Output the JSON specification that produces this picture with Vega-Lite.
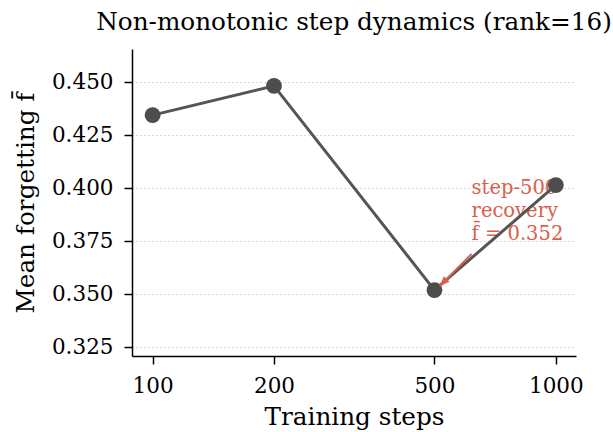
{
  "$schema": "https://vega.github.io/schema/vega-lite/v6.json",
  "width": 444,
  "height": 307,
  "autosize": {"type": "none"},
  "padding": {"left": 132, "top": 49, "right": 37, "bottom": 76},
  "config": {
    "font": "DejaVu Serif",
    "view": {"stroke": null},
    "axis": {"labelFont": "DejaVu Serif", "titleFont": "DejaVu Serif", "titleFontWeight": "normal", "labelColor": "#000", "titleColor": "#000", "domainColor": "#000", "tickColor": "#000", "domainWidth": 1.5, "tickWidth": 1.5, "tickSize": 8, "labelFontSize": 21.5, "titleFontSize": 24.7}
  },
  "title": {"text": "Non-monotonic step dynamics (rank=16)", "font": "DejaVu Serif", "fontSize": 24.7, "fontWeight": "normal", "color": "#000", "offset": 14},
  "datasets": {
    "pts": [
      {"steps": 100, "f": 0.4344},
      {"steps": 200, "f": 0.4482},
      {"steps": 500, "f": 0.3519},
      {"steps": 1000, "f": 0.4014}
    ],
    "arrow": [
      {"x1": 618, "y1": 0.3689, "x2": 515, "y2": 0.3538}
    ],
    "note": [
      {"x": 618, "y": 0.400, "label": ["step-500", "recovery", "f̄ = 0.352"]}
    ]
  },
  "layer": [
    {
      "data": {"name": "note"},
      "mark": {"type": "text", "color": "#d9604c", "font": "DejaVu Serif", "fontSize": 19.5, "align": "left", "baseline": "middle", "lineHeight": 23},
      "encoding": {
        "x": {"field": "x", "type": "quantitative", "scale": {"type": "log", "domain": [88.9, 1122], "nice": false}, "axis": {"values": [100, 200, 500, 1000], "format": "d", "title": "Training steps", "grid": false, "labelPadding": 11, "titlePadding": 8}},
        "y": {"field": "y", "type": "quantitative", "scale": {"domain": [0.3208, 0.4656], "nice": false, "zero": false}, "axis": {"values": [0.325, 0.35, 0.375, 0.4, 0.425, 0.45], "format": ".3f", "title": "Mean forgetting f̄", "grid": true, "gridDash": [1.5, 2.5], "gridColor": "#cccccc", "gridWidth": 1, "labelPadding": 11, "titlePadding": 13}},
        "text": {"field": "label"}
      }
    },
    {
      "data": {"name": "pts"},
      "mark": {"type": "line", "color": "#555555", "strokeWidth": 3},
      "encoding": {
        "x": {"field": "steps", "type": "quantitative"},
        "y": {"field": "f", "type": "quantitative"}
      }
    },
    {
      "data": {"name": "pts"},
      "mark": {"type": "point", "filled": true, "color": "#4d4d4d", "opacity": 1, "size": 250},
      "encoding": {
        "x": {"field": "steps", "type": "quantitative"},
        "y": {"field": "f", "type": "quantitative"}
      }
    },
    {
      "data": {"name": "arrow"},
      "mark": {"type": "rule", "color": "#d9604c", "strokeWidth": 2},
      "encoding": {
        "x": {"field": "x1", "type": "quantitative"},
        "y": {"field": "y1", "type": "quantitative"},
        "x2": {"field": "x2"},
        "y2": {"field": "y2"}
      }
    },
    {
      "data": {"name": "arrow"},
      "mark": {"type": "point", "filled": true, "color": "#d9604c", "opacity": 1, "shape": "M0,0 L0.4,1 L-0.4,1 Z", "size": 400, "angle": 225},
      "encoding": {
        "x": {"field": "x2", "type": "quantitative"},
        "y": {"field": "y2", "type": "quantitative"}
      }
    }
  ]
}
